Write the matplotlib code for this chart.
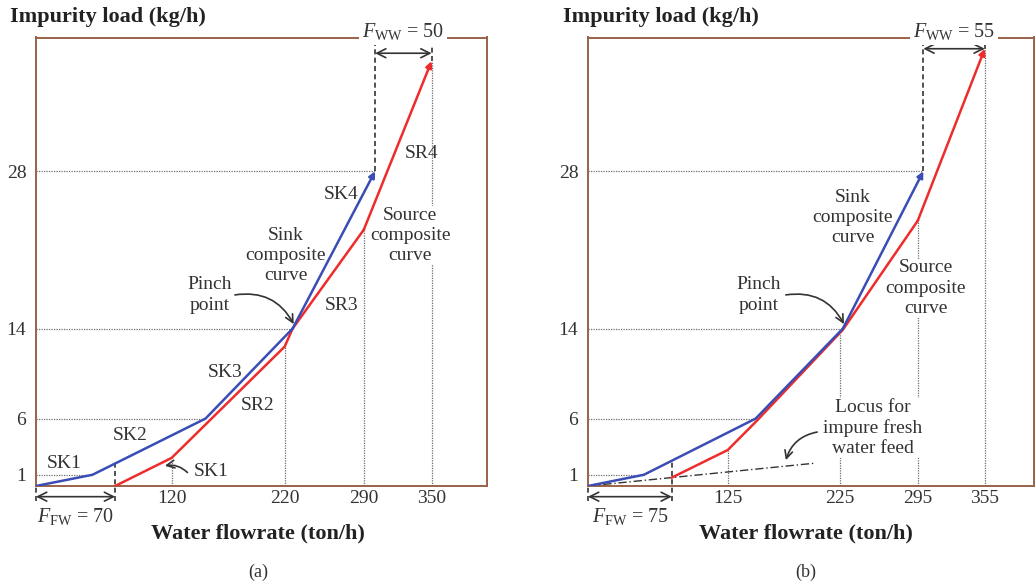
import matplotlib.pyplot as plt
import numpy as np

plt.rcParams['font.family'] = 'Liberation Serif'
plt.rcParams['mathtext.fontset'] = 'custom'
plt.rcParams['mathtext.rm'] = 'Liberation Serif'
plt.rcParams['mathtext.it'] = 'Liberation Serif:italic'

# panel (a)
sink_a_x = [0, 50, 150, 227, 300]
sink_a_y = [0, 1, 6, 14, 28]
src_a_x = [70, 120, 220, 227, 290, 350]
src_a_y = [0, 2.5, 12.4, 14, 22.8, 37.8]
ticks_a = [120, 220, 290, 350]
ffw_a = 70

# panel (b)
sink_b_x = [0, 50, 150, 228, 300]
sink_b_y = [0, 1, 6, 14, 28]
src_b_x = [75, 125, 151, 228, 295, 355]
src_b_y = [0.75, 3.2, 5.8, 13.9, 23.6, 38.9]
ticks_b = [125, 225, 295, 355]
ffw_b = 75
locus_x = [0, 203]
locus_y = [0, 2.03]

FRAME = '#9a6249'
RED = '#ee2c2c'
BLUE = '#3a4db5'
TXT = '#333333'
GRID = '#6e6e6e'
DASH = (0, (3, 2))


def draw_panel(ax, sink_x, sink_y, src_x, src_y, xticks, ffw, ffw_text, fww_text, y_top_arrow):
    ax.set_xlim(0, 399)
    ax.set_ylim(0, 39.9)
    for s in ax.spines.values():
        s.set_color(FRAME)
        s.set_linewidth(1.4)
    ax.set_xticks(xticks)
    ax.set_yticks(sink_y[1:])
    ax.tick_params(length=0, labelsize=14, colors=TXT)
    ax.tick_params(axis='x', pad=3)
    ax.tick_params(axis='y', pad=7)

    # dotted guide lines
    for x, y in zip(sink_x[1:], sink_y[1:]):
        ax.plot([0, x], [y, y], color=GRID, ls=(0, (1, 1)), lw=0.9, zorder=1)
    for t in xticks:
        ax.plot([t, t], [0, np.interp(t, src_x, src_y)], color=GRID,
                ls=(0, (1, 1)), lw=0.9, zorder=1)

    # composite curves
    for xs, ys, c in [(src_x, src_y, RED), (sink_x, sink_y, BLUE)]:
        ax.plot(xs[:-1], ys[:-1], color=c, lw=1.8, zorder=4, solid_joinstyle='round')
        ax.annotate('', xy=(xs[-1], ys[-1]), xytext=(xs[-2], ys[-2]),
                    arrowprops=dict(arrowstyle='-|>', color=c, lw=1.8,
                                    mutation_scale=9, shrinkA=0, shrinkB=0),
                    zorder=4)

    # fresh water
    y_ffw = np.interp(ffw, sink_x, sink_y)
    ax.plot([ffw, ffw], [-1.3, y_ffw], color=TXT, ls=DASH, lw=1.2, clip_on=False, zorder=3)
    ax.plot([0, 0], [-1.3, 0], color=TXT, ls=DASH, lw=1.2, clip_on=False, zorder=3)
    ax.annotate('', xy=(0, -0.95), xytext=(ffw, -0.95), annotation_clip=False,
                arrowprops=dict(arrowstyle='<->', color=TXT, lw=1.2,
                                mutation_scale=16, shrinkA=0, shrinkB=0))
    ax.text(ffw / 2, -2.75, ffw_text, ha='center', va='center', fontsize=14.5,
            color=TXT, clip_on=False)

    # wastewater
    xe, xs_ = sink_x[-1], src_x[-1]
    ax.plot([xe, xe], [sink_y[-1], 39.4], color=TXT, ls=DASH, lw=1.2, zorder=3)
    ax.plot([xs_, xs_], [src_y[-1], 39.4], color=TXT, ls=DASH, lw=1.2, zorder=3)
    ax.annotate('', xy=(xe, y_top_arrow), xytext=(xs_, y_top_arrow),
                arrowprops=dict(arrowstyle='<->', color=TXT, lw=1.2,
                                mutation_scale=16, shrinkA=0, shrinkB=0))
    ax.text((xe + xs_) / 2, 40.4, fww_text, ha='center', va='center', fontsize=14.5,
            color=TXT, clip_on=False, zorder=10,
            bbox=dict(facecolor='white', edgecolor='none', pad=2))


fig = plt.figure(figsize=(10.36, 5.83), dpi=100)
ax1 = fig.add_axes([36 / 1036, 1 - 486 / 583, 451 / 1036, 448.5 / 583])
ax2 = fig.add_axes([588 / 1036, 1 - 486 / 583, 446 / 1036, 448.5 / 583])

draw_panel(ax1, sink_a_x, sink_a_y, src_a_x, src_a_y, ticks_a, ffw_a,
           r'$F_{\mathrm{FW}}$ = 70', r'$F_{\mathrm{WW}}$ = 50', 38.5)
draw_panel(ax2, sink_b_x, sink_b_y, src_b_x, src_b_y, ticks_b, ffw_b,
           r'$F_{\mathrm{FW}}$ = 75', r'$F_{\mathrm{WW}}$ = 55', 38.9)

kw = dict(fontsize=14, color=TXT, ha='center', va='center', linespacing=1.25, zorder=3)
wb = dict(facecolor='white', edgecolor='none', pad=0.5)
arr = dict(arrowstyle='->', color=TXT, lw=1.2, mutation_scale=14, shrinkA=0, shrinkB=0)

# labels, panel (a)
ax1.text(25, 2.0, 'SK1', **kw)
ax1.text(83, 4.5, 'SK2', **kw)
ax1.text(167, 10.1, 'SK3', **kw)
ax1.text(270, 25.9, 'SK4', **kw)
ax1.text(155, 1.3, 'SK1', **kw)
ax1.annotate('', xy=(114, 1.8), xytext=(134, 1.2),
             arrowprops=dict(arr, connectionstyle='arc3,rad=0.25'))
ax1.text(196, 7.2, 'SR2', **kw)
ax1.text(270, 16.1, 'SR3', **kw)
ax1.text(341, 29.6, 'SR4', **kw)
ax1.text(154, 17.0, 'Pinch\npoint', **kw)
ax1.annotate('', xy=(228, 14.4), xytext=(176, 17.0),
             arrowprops=dict(arr, connectionstyle='arc3,rad=-0.35'))
ax1.text(221, 20.5, 'Sink\ncomposite\ncurve', **kw)
ax1.text(331, 22.3, 'Source\ncomposite\ncurve', bbox=wb, **kw)

# labels, panel (b)
ax2.plot(locus_x, locus_y, color=TXT, ls=(0, (6, 2, 1, 2)), lw=1.0, zorder=3)
ax2.text(153, 17.0, 'Pinch\npoint', **kw)
ax2.annotate('', xy=(229, 14.4), xytext=(177, 17.0),
             arrowprops=dict(arr, connectionstyle='arc3,rad=-0.35'))
ax2.text(237, 23.9, 'Sink\ncomposite\ncurve', **kw)
ax2.text(302, 17.6, 'Source\ncomposite\ncurve', bbox=wb, **kw)
ax2.text(255, 5.15, 'Locus for\nimpure fresh\nwater feed', bbox=wb, **kw)
ax2.annotate('', xy=(177, 2.3), xytext=(205, 4.8),
             arrowprops=dict(arr, connectionstyle='arc3,rad=0.3'))

# titles
for x0, xc, tag in [(10, 258, '(a)'), (563, 806, '(b)')]:
    fig.text(x0 / 1036, 1 - 17 / 583, 'Impurity load (kg/h)', fontsize=16,
             fontweight='bold', color='#222222', ha='left', va='center')
    fig.text(xc / 1036, 1 - 533 / 583, 'Water flowrate (ton/h)', fontsize=16,
             fontweight='bold', color='#222222', ha='center', va='center')
    fig.text(xc / 1036, 1 - 572 / 583, tag, fontsize=13, color=TXT,
             ha='center', va='center')

fig.savefig('out.png', dpi=100)
